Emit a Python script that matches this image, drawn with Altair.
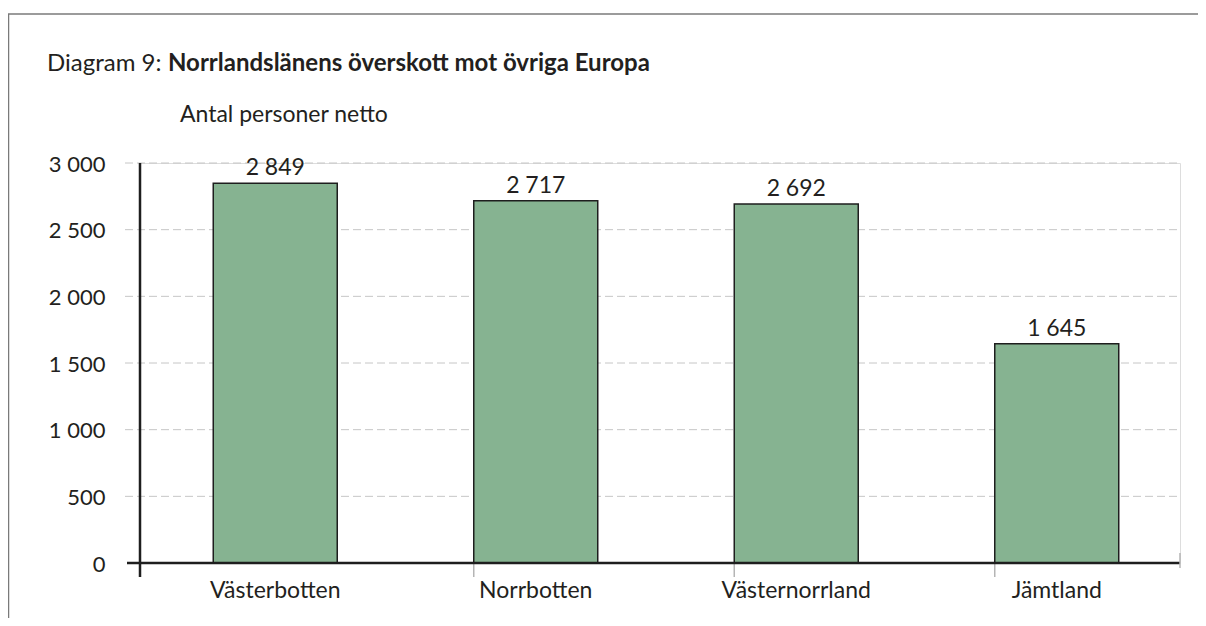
import altair as alt
import pandas as pd

categories = ["Västerbotten", "Norrbotten", "Västernorrland", "Jämtland"]
values = [2849, 2717, 2692, 1645]
y_ticks = [0, 500, 1000, 1500, 2000, 2500, 3000]
title_prefix = "Diagram 9:"
title_main = "Norrlandslänens överskott mot övriga Europa"
y_title = "Antal personer netto"

df = pd.DataFrame({"lan": categories, "antal": values})
df_bounds = pd.DataFrame({"lan": categories[1:]})
df_grid = pd.DataFrame({"antal": y_ticks[1:]})

W, H = 1040, 400
FONT = "Lato"
TXT = "#231f20"
GRID = "#c6c6c6"

fmt = "replace(format(datum.value, ','), ',', ' ')"

x_scale = alt.Scale(domain=categories, range=[5, 1047], paddingInner=0.524, paddingOuter=0.262)

x_enc = alt.X(
    "lan:N",
    sort=categories,
    scale=x_scale,
    axis=alt.Axis(
        title=None, labelAngle=0, labelFontSize=23, labelColor=TXT, labelFont=FONT,
        labelBaseline="alphabetic", labelPadding=34, ticks=False,
        domain=False, grid=False,
    ),
)
y_enc = alt.Y(
    "antal:Q",
    scale=alt.Scale(domain=[0, 3000], nice=False),
    axis=alt.Axis(
        title=None, values=y_ticks, labelExpr=fmt, labelFontSize=22, labelColor=TXT,
        labelFont=FONT, labelPadding=35, labelOffset=1, ticks=False,
        grid=False, domain=False,
    ),
)

base = alt.Chart(df)

grid = alt.Chart(df_grid).mark_rule(color=GRID, strokeWidth=1, strokeDash=[8, 4]).encode(
    y="antal:Q", x=alt.value(-15), x2=alt.value(W)
)

bars = base.mark_bar(color="#86b391", stroke="#1e1e1e", strokeWidth=1.5).encode(x=x_enc, y=y_enc)

labels = base.transform_calculate(
    lbl="replace(format(datum.antal, ','), ',', ' ')"
).mark_text(dy=-8, baseline="alphabetic", fontSize=23, font=FONT, color=TXT).encode(
    x=alt.X("lan:N", sort=categories), y="antal:Q", text="lbl:N"
)

bound_ticks = alt.Chart(df_bounds).mark_rule(color="#b5b5b5", strokeWidth=1.5).encode(
    x=alt.X("lan:N", bandPosition=0), y=alt.value(H), y2=alt.value(H + 14)
)

one = alt.Chart(pd.DataFrame({"z": [0]}))

zero_line = one.mark_rule(color="#1e1e1e", strokeWidth=2.5).encode(
    x=alt.value(-13), x2=alt.value(W), y=alt.datum(0)
)
y_line = one.mark_rule(color="#1e1e1e", strokeWidth=2.5).encode(
    x=alt.value(0), y=alt.value(0), y2=alt.value(H + 14)
)
right_tick = one.mark_rule(color="#b5b5b5", strokeWidth=1.5).encode(
    x=alt.value(W), y=alt.value(H - 10), y2=alt.value(H + 5)
)
frame_top = one.mark_rule(color="#7a7a7a", strokeWidth=1.5).encode(
    x=alt.value(-132), x2=alt.value(W + 20), y=alt.value(-149)
)
frame_left = one.mark_rule(color="#7a7a7a", strokeWidth=1.5).encode(
    x=alt.value(-131.5), y=alt.value(-149), y2=alt.value(H + 60)
)

t1 = alt.Chart(pd.DataFrame({"t": [title_prefix]})).mark_text(
    align="left", baseline="alphabetic", fontSize=24, font=FONT, color=TXT
).encode(x=alt.value(-93), y=alt.value(-92), text="t:N")
t2 = alt.Chart(pd.DataFrame({"t": [title_main]})).mark_text(
    align="left", baseline="alphabetic", fontSize=24, font=FONT, fontWeight="bold", color=TXT
).encode(x=alt.value(28), y=alt.value(-92), text="t:N")
t3 = alt.Chart(pd.DataFrame({"t": [y_title]})).mark_text(
    align="left", baseline="alphabetic", fontSize=23, font=FONT, color=TXT
).encode(x=alt.value(40), y=alt.value(-41), text="t:N")

chart = alt.layer(
    grid, bars, labels, bound_ticks, zero_line, y_line, right_tick, frame_top, frame_left, t1, t2, t3
).properties(
    width=W, height=H,
    autosize=alt.AutoSizeParams(type="none"),
    padding={"left": 132, "top": 155, "right": 18, "bottom": 55},
).configure_view(stroke=None).configure(background="white")

chart.save("out.html", embed_options={"renderer": "svg", "actions": False})
